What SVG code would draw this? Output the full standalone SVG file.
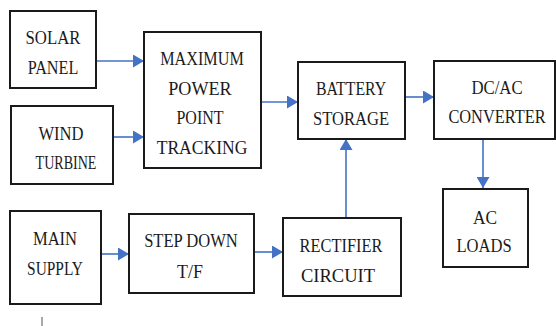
<svg xmlns="http://www.w3.org/2000/svg" width="556" height="326" viewBox="0 0 556 326">
<style>
.box{fill:#fff;stroke:#1a1a1a;stroke-width:2}
.t{font-family:'Liberation Serif','Times New Roman',serif;font-size:19.5px;fill:#1a1a1a;text-anchor:middle}
.c{stroke:#4472C4;stroke-width:1.6;fill:none;marker-end:url(#ah)}
</style>
<defs>
<marker id="ah" markerUnits="userSpaceOnUse" markerWidth="12" markerHeight="13" refX="11" refY="6.5" orient="auto">
<path d="M0,0 L11,6.5 L0,13 z" fill="#4472C4"/>
</marker>
</defs>
<rect width="556" height="326" fill="#fff"/>
<g id="connectors">
<line class="c" x1="96" y1="61" x2="144" y2="61"/>
<line class="c" x1="113" y1="137" x2="144" y2="137"/>
<line class="c" x1="261" y1="102" x2="298" y2="102"/>
<line class="c" x1="405" y1="97" x2="434" y2="97"/>
<line class="c" x1="483" y1="139" x2="483" y2="188"/>
<line class="c" x1="346" y1="217" x2="346" y2="139"/>
<line class="c" x1="101" y1="254" x2="129" y2="254"/>
<line class="c" x1="254" y1="252" x2="283" y2="252"/>
</g>
<g id="solar">
<rect class="box" x="10" y="11" width="86" height="77"/>
<text class="t" transform="translate(53,44) scale(0.86,1)">SOLAR</text>
<text class="t" transform="translate(53,74) scale(0.83,1)">PANEL</text>
</g>
<g id="wind">
<rect class="box" x="11" y="106" width="102" height="78"/>
<text class="t" transform="translate(61,140) scale(0.85,1)">WIND</text>
<text class="t" transform="translate(66,169) scale(0.72,1)">TURBINE</text>
</g>
<g id="mppt">
<rect class="box" x="144" y="32" width="117" height="136"/>
<text class="t" transform="translate(202,65) scale(0.83,1)">MAXIMUM</text>
<text class="t" transform="translate(200,95) scale(0.93,1)">POWER</text>
<text class="t" transform="translate(200,124) scale(0.82,1)">POINT</text>
<text class="t" transform="translate(202,154) scale(0.9,1)">TRACKING</text>
</g>
<g id="battery">
<rect class="box" x="298" y="62" width="107" height="77"/>
<text class="t" transform="translate(351,95) scale(0.81,1)">BATTERY</text>
<text class="t" transform="translate(351,125) scale(0.85,1)">STORAGE</text>
</g>
<g id="dcac">
<rect class="box" x="434" y="61" width="121" height="78"/>
<text class="t" transform="translate(497,94) scale(0.86,1)">DC/AC</text>
<text class="t" transform="translate(497,123) scale(0.84,1)">CONVERTER</text>
</g>
<g id="acloads">
<rect class="box" x="443" y="189" width="85" height="78"/>
<text class="t" transform="translate(485,224) scale(0.89,1)">AC</text>
<text class="t" transform="translate(484,252) scale(0.85,1)">LOADS</text>
</g>
<g id="main">
<rect class="box" x="10" y="211" width="91" height="93"/>
<text class="t" transform="translate(55,245) scale(0.85,1)">MAIN</text>
<text class="t" transform="translate(55,275) scale(0.79,1)">SUPPLY</text>
</g>
<g id="stepdown">
<rect class="box" x="129" y="214" width="125" height="79"/>
<text class="t" transform="translate(191,247) scale(0.85,1)">STEP DOWN</text>
<text class="t" transform="translate(190,278) scale(0.92,1)">T/F</text>
</g>
<g id="rectifier">
<rect class="box" x="283" y="218" width="118" height="78"/>
<text class="t" transform="translate(341,252) scale(0.84,1)">RECTIFIER</text>
<text class="t" transform="translate(338,282) scale(0.95,1)">CIRCUIT</text>
</g>
<line x1="42" y1="317" x2="42" y2="326" stroke="#555" stroke-width="1"/>
</svg>
